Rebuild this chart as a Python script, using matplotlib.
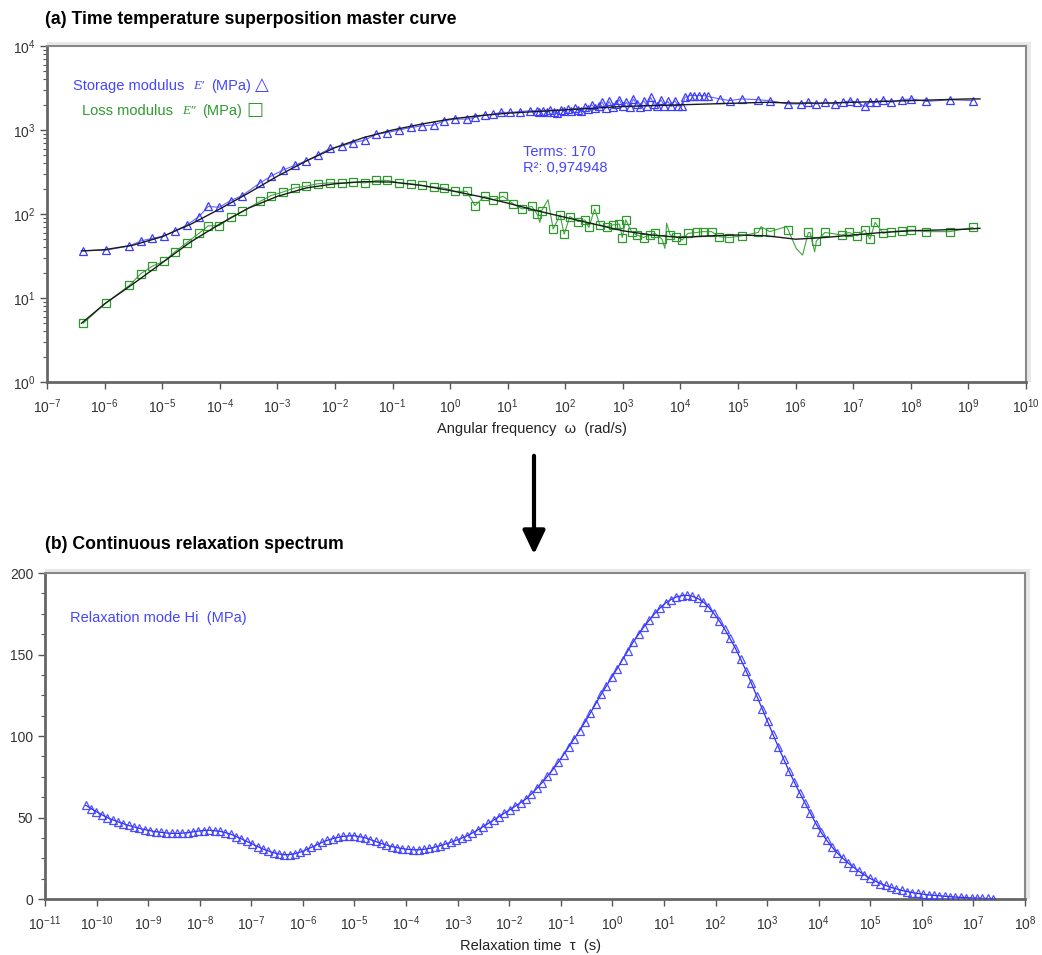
import numpy as np
import matplotlib
matplotlib.use("Agg")
import matplotlib.pyplot as plt
from matplotlib.patches import Rectangle, FancyArrowPatch, ArrowStyle

plt.rcParams["font.family"] = ["Liberation Sans", "DejaVu Sans"]
plt.rcParams["mathtext.fontset"] = "custom"
plt.rcParams["mathtext.rm"] = "Liberation Sans"
plt.rcParams["mathtext.it"] = "Liberation Sans:italic"
plt.rcParams["mathtext.bf"] = "Liberation Sans:bold"

# ---------------- (a) master curve data (log10 values) ----------------
storage_logw = [
    -6.37, -5.98, -5.57, -5.37, -5.17, -4.96, -4.78, -4.57, -4.36, -4.20,
    -4.01, -3.81, -3.61, -3.30, -3.11, -2.91, -2.70, -2.51, -2.30, -2.09,
    -1.88, -1.68, -1.48, -1.28, -1.09, -0.88, -0.68, -0.48, -0.28, -0.10,
    0.08, 0.29, 0.43, 0.60, 0.75, 0.89, 1.04, 1.21, 1.39, 1.50,
    1.55, 1.62, 1.68, 1.74, 1.80, 1.86, 1.92, 1.98, 2.04, 2.10,
    2.16, 2.22, 2.28, 2.34, 2.40, 2.46, 2.52, 2.58, 2.64, 2.70,
    2.76, 2.82, 2.88, 2.94, 3.00, 3.06, 3.12, 3.18, 3.24, 3.30,
    3.36, 3.42, 3.48, 3.54, 3.60, 3.66, 3.72, 3.78, 3.84, 3.90,
    3.96, 4.02, 4.08, 4.16, 4.24, 4.32, 4.40, 4.48,
    4.68, 4.86, 5.06, 5.35, 5.55, 5.87, 6.10, 6.22, 6.36, 6.51,
    6.68, 6.83, 6.94, 7.07, 7.20, 7.29, 7.40, 7.52, 7.66, 7.84,
    8.01, 8.27, 8.68, 9.08,
]
storage_logE = [
    1.563, 1.57, 1.62, 1.68, 1.71, 1.74, 1.80, 1.87, 1.97, 2.09,
    2.08, 2.16, 2.22, 2.37, 2.45, 2.52, 2.58, 2.63, 2.70, 2.78,
    2.81, 2.85, 2.88, 2.95, 2.97, 3.00, 3.03, 3.05, 3.06, 3.11,
    3.13, 3.13, 3.15, 3.18, 3.19, 3.21, 3.21, 3.22, 3.23, 3.23,
    3.22, 3.23, 3.21, 3.24, 3.22, 3.20, 3.24, 3.23, 3.25, 3.23,
    3.26, 3.24, 3.23, 3.27, 3.25, 3.30, 3.26, 3.29, 3.33, 3.26,
    3.34, 3.27, 3.31, 3.36, 3.28, 3.33, 3.27, 3.37, 3.31, 3.27,
    3.35, 3.29, 3.39, 3.31, 3.28, 3.36, 3.29, 3.34, 3.28, 3.35,
    3.29, 3.28, 3.39, 3.41, 3.41, 3.41, 3.41, 3.40,
    3.37, 3.35, 3.37, 3.36, 3.35, 3.31, 3.31, 3.33, 3.31, 3.33,
    3.31, 3.33, 3.35, 3.33, 3.28, 3.33, 3.33, 3.36, 3.33, 3.36,
    3.37, 3.34, 3.36, 3.35,
]

loss_logw = [
    -6.37, -5.98, -5.57, -5.37, -5.17, -4.96, -4.78, -4.57, -4.36, -4.20,
    -4.01, -3.81, -3.61, -3.30, -3.11, -2.91, -2.70, -2.51, -2.30, -2.09,
    -1.88, -1.68, -1.48, -1.28, -1.09, -0.88, -0.68, -0.48, -0.28, -0.10,
    0.08, 0.29, 0.43, 0.60, 0.75, 0.92, 1.10, 1.25, 1.42, 1.51,
    1.59, 1.79, 1.91, 1.98, 2.08, 2.22, 2.34, 2.41, 2.51, 2.60,
    2.72, 2.83, 2.94, 2.99, 3.05, 3.15, 3.24, 3.36, 3.47, 3.56,
    3.68, 3.82, 3.93, 4.03, 4.13, 4.28, 4.39, 4.54, 4.67, 4.85,
    5.06, 5.35, 5.55, 5.87, 6.22, 6.36, 6.51, 6.80, 6.93, 7.07,
    7.20, 7.29, 7.38, 7.52, 7.66, 7.84, 8.01, 8.27, 8.68, 9.08,
]
loss_logE = [
    0.70, 0.94, 1.15, 1.29, 1.38, 1.44, 1.55, 1.66, 1.77, 1.86,
    1.86, 1.96, 2.03, 2.15, 2.22, 2.26, 2.31, 2.33, 2.36, 2.37,
    2.37, 2.38, 2.37, 2.40, 2.40, 2.37, 2.36, 2.34, 2.32, 2.31,
    2.27, 2.27, 2.10, 2.21, 2.17, 2.21, 2.12, 2.06, 2.09, 2.00,
    2.04, 1.82, 1.99, 1.76, 1.97, 1.91, 1.93, 1.84, 2.06, 1.87,
    1.85, 1.87, 1.88, 1.72, 1.93, 1.79, 1.75, 1.72, 1.75, 1.77,
    1.70, 1.75, 1.73, 1.69, 1.77, 1.78, 1.79, 1.79, 1.73, 1.72,
    1.74, 1.78, 1.79, 1.81, 1.78, 1.68, 1.78, 1.75, 1.78, 1.74,
    1.81, 1.70, 1.90, 1.77, 1.79, 1.80, 1.81, 1.79, 1.79, 1.84,
]
# loss readings traced by the line but not marked
loss_extra_logw = [1.56, 1.70, 3.73, 3.76, 5.40, 5.84, 6.01, 6.12, 6.25, 6.33]
loss_extra_logE = [1.90, 2.17, 1.59, 1.89, 1.85, 1.85, 1.59, 1.51, 1.78, 1.55]

# fitted Prony-series curves
fit_logw = [
    -6.4, -6.0, -5.5, -5.0, -4.5, -4.0, -3.5, -3.0, -2.5, -2.0, -1.5,
    -1.0, -0.5, 0.0, 0.5, 1.0, 1.5, 2.0, 2.5, 3.0, 3.5, 4.0, 4.5,
    5.0, 5.5, 6.0, 6.5, 7.0, 7.5, 8.0, 8.5, 9.0, 9.2,
]
fit_storage_logE = [
    1.56, 1.575, 1.63, 1.73, 1.88, 2.06, 2.25, 2.45, 2.63, 2.79, 2.91,
    3.00, 3.07, 3.13, 3.17, 3.20, 3.22, 3.24, 3.26, 3.28, 3.29, 3.30, 3.31,
    3.32, 3.33, 3.32, 3.32, 3.33, 3.34, 3.35, 3.36, 3.37, 3.37,
]
fit_loss_logE = [
    0.70, 0.93, 1.17, 1.42, 1.67, 1.88, 2.07, 2.21, 2.31, 2.36, 2.385,
    2.38, 2.34, 2.28, 2.21, 2.13, 2.04, 1.96, 1.88, 1.80, 1.75, 1.72, 1.74,
    1.75, 1.74, 1.70, 1.72, 1.75, 1.78, 1.80, 1.81, 1.82, 1.83,
]

# ---------------- (b) relaxation spectrum (170 terms) ----------------
tau_log_first, tau_log_last = -10.21, 7.38
spectrum_H = [
    57.5, 55.5, 53.5, 51.7, 49.9, 48.6, 47.3, 46.2, 45.1, 44.2,
    43.3, 42.6, 41.9, 41.3, 40.9, 40.5, 40.3, 40.2, 40.4, 40.7,
    41.2, 41.7, 42.0, 42.2, 41.9, 41.5, 40.7, 39.8, 38.3, 36.9,
    35.3, 33.8, 32.2, 30.7, 29.5, 28.4, 27.6, 27.2, 27.3, 27.8,
    28.8, 30.1, 31.6, 33.2, 34.7, 36.0, 37.1, 37.8, 38.5, 38.7,
    38.8, 38.2, 37.6, 36.4, 35.3, 34.1, 33.1, 32.2, 31.5, 30.9,
    30.5, 30.2, 30.2, 30.5, 31.0, 31.8, 32.7, 33.7, 34.8, 36.0,
    37.3, 38.7, 40.5, 42.3, 44.3, 46.4, 48.5, 50.6, 52.7, 54.8,
    56.9, 59.1, 61.4, 64.4, 67.8, 71.4, 75.3, 79.4, 83.8, 88.5,
    93.5, 98.4, 103.3, 108.6, 114.1, 119.8, 125.5, 130.8, 136.0, 141.4,
    146.9, 152.4, 157.8, 162.5, 167.1, 171.2, 175.2, 178.6, 181.6, 183.7,
    185.3, 186.1, 186.3, 185.7, 184.4, 182.3, 179.1, 175.2, 170.6, 165.7,
    159.9, 153.9, 147.1, 140.0, 132.3, 124.5, 116.7, 108.9, 101.1, 93.3,
    85.8, 78.4, 71.6, 65.0, 58.8, 52.5, 46.3, 40.8, 36.1, 31.9,
    28.2, 25.0, 22.1, 19.5, 17.0, 14.9, 12.8, 11.1, 9.5, 8.3,
    7.1, 6.2, 5.3, 4.6, 3.9, 3.4, 2.9, 2.5, 2.2, 2.0,
    1.7, 1.4, 1.2, 1.0, 0.8, 0.65, 0.53, 0.43, 0.33, 0.2,
]

freq_ticks = list(range(-7, 11))
tau_ticks = list(range(-11, 9))
mod_ticks = list(range(0, 5))
H_ticks = [0, 50, 100, 150, 200]

BLUE = "#3c3cff"
GREEN = "#2e9a2e"
TEXT_BLUE = "#4646ff"
TICK_COLOR = "#333333"

W, H = 1042, 955
fig = plt.figure(figsize=(W / 100, H / 100), dpi=100)


def px_box(x0, y0, x1, y1):
    return [x0 / W, 1 - y1 / H, (x1 - x0) / W, (y1 - y0) / H]


def px_text(x, y, s, **kw):
    kw.setdefault("va", "center")
    kw.setdefault("ha", "left")
    return fig.text(x / W, 1 - y / H, s, **kw)


def frame(ax):
    pos = ax.get_position()
    shadow = Rectangle((pos.x0, pos.y0), pos.width + 5 / W, pos.height + 4 / H,
                       transform=fig.transFigure, facecolor="#e8e8e8",
                       edgecolor="none", zorder=-1)
    fig.patches.append(shadow)
    for side in ("left", "bottom"):
        ax.spines[side].set_color("#666666")
        ax.spines[side].set_linewidth(2.0)
    for side in ("top", "right"):
        ax.spines[side].set_color("#888888")
        ax.spines[side].set_linewidth(1.5)
    ax.tick_params(which="major", direction="out", length=5, width=1.0,
                   color="#555555", labelcolor=TICK_COLOR, labelsize=10)
    ax.tick_params(which="minor", direction="out", length=3, width=0.8,
                   color="#555555")


def pow_labels(exps):
    return [r"$\mathregular{10^{%d}}$" % e for e in exps]


# ---------------- panel (a) ----------------
ax1 = fig.add_axes(px_box(47, 46, 1026, 382))
ax1.set_xscale("log")
ax1.set_yscale("log")
ax1.set_xlim(10.0 ** freq_ticks[0], 10.0 ** freq_ticks[-1])
ax1.set_ylim(10.0 ** mod_ticks[0], 10.0 ** mod_ticks[-1])

w_st = 10.0 ** np.array(storage_logw)
E_st = 10.0 ** np.array(storage_logE)
w_lo = 10.0 ** np.array(loss_logw)
E_lo = 10.0 ** np.array(loss_logE)

all_lw = np.array(loss_logw + loss_extra_logw)
all_lE = np.array(loss_logE + loss_extra_logE)
order = np.argsort(all_lw)

ax1.plot(w_st, E_st, color=BLUE, lw=0.8, alpha=0.8, zorder=2)
ax1.plot(w_st, E_st, ls="none", marker="^", ms=5.5, mfc="none",
         mec=BLUE, mew=0.9, zorder=3)
ax1.plot(10.0 ** all_lw[order], 10.0 ** all_lE[order], color=GREEN, lw=0.8,
         alpha=0.9, zorder=2)
ax1.plot(w_lo, E_lo, ls="none", marker="s", ms=5.5, mfc="none",
         mec=GREEN, mew=0.9, zorder=3)

fw = 10.0 ** np.array(fit_logw)
ax1.plot(fw, 10.0 ** np.array(fit_storage_logE), color="#1a1a1a", lw=1.0, zorder=4)
ax1.plot(fw, 10.0 ** np.array(fit_loss_logE), color="#1a1a1a", lw=1.0, zorder=4)

ax1.set_xticks([10.0 ** e for e in freq_ticks])
ax1.set_xticklabels(pow_labels(freq_ticks))
ax1.xaxis.set_minor_locator(matplotlib.ticker.NullLocator())
ax1.set_yticks([10.0 ** e for e in mod_ticks])
ax1.set_yticklabels(pow_labels(mod_ticks))
ax1.yaxis.set_minor_locator(matplotlib.ticker.LogLocator(base=10, subs=np.arange(2, 10)))
ax1.yaxis.set_minor_formatter(matplotlib.ticker.NullFormatter())
frame(ax1)
ax1.tick_params(axis="x", pad=6)

# legend-style annotations
px_text(73, 86, "Storage modulus", color=TEXT_BLUE, fontsize=10.5)
px_text(193, 86, "E\u2032", color=TEXT_BLUE, fontsize=9.5,
        family=["Liberation Serif", "DejaVu Serif"], style="italic")
px_text(211, 86, "(MPa)", color=TEXT_BLUE, fontsize=10.5)
px_text(255, 85, "\u25B3", color=TEXT_BLUE, fontsize=13, family=["DejaVu Sans"])
px_text(82, 111, "Loss modulus", color=GREEN, fontsize=10.5)
px_text(182, 111, "E\u2033", color=GREEN, fontsize=9.5,
        family=["Liberation Serif", "DejaVu Serif"], style="italic")
px_text(202, 111, "(MPa)", color=GREEN, fontsize=10.5)
px_text(246, 110, "\u25A1", color=GREEN, fontsize=13, family=["DejaVu Sans"])
px_text(523, 152, "Terms: 170", color=TEXT_BLUE, fontsize=10.5)
px_text(523, 168, "R\u00b2: 0,974948", color=TEXT_BLUE, fontsize=10.5)

px_text(45, 20, "(a) Time temperature superposition master curve",
        fontsize=12.7, fontweight="bold")
px_text(532, 429, "Angular frequency  \u03c9  (rad/s)",
        fontsize=10.5, color="#222222", ha="center")

# ---------------- arrow ----------------
arrow = FancyArrowPatch((534 / W, 1 - 453 / H), (534 / W, 1 - 557 / H),
                        transform=fig.transFigure,
                        arrowstyle=ArrowStyle("-|>", head_length=0.8, head_width=0.38),
                        mutation_scale=18, lw=3, color="black")
fig.patches.append(arrow)

# ---------------- panel (b) ----------------
ax2 = fig.add_axes(px_box(45, 573, 1025, 899))
ax2.set_xscale("log")
ax2.set_xlim(10.0 ** tau_ticks[0], 10.0 ** tau_ticks[-1])
ax2.set_ylim(H_ticks[0], H_ticks[-1])

tau = 10.0 ** np.linspace(tau_log_first, tau_log_last, len(spectrum_H))
ax2.plot(tau, spectrum_H, color="#2a2aff", lw=0.9, zorder=2)
ax2.plot(tau, spectrum_H, ls="none", marker="^", ms=5.3, mfc="none",
         mec=BLUE, mew=0.9, alpha=0.9, zorder=3)

ax2.set_xticks([10.0 ** e for e in tau_ticks])
ax2.set_xticklabels(pow_labels(tau_ticks))
ax2.xaxis.set_minor_locator(matplotlib.ticker.NullLocator())
ax2.set_yticks(H_ticks)
ax2.yaxis.set_minor_locator(matplotlib.ticker.MultipleLocator(12.5))
frame(ax2)
ax2.tick_params(axis="x", pad=6)

px_text(70, 618, "Relaxation mode Hi  (MPa)", color=TEXT_BLUE, fontsize=10.5)

px_text(45, 544, "(b) Continuous relaxation spectrum",
        fontsize=12.7, fontweight="bold")
px_text(531, 946, "Relaxation time  \u03c4  (s)",
        fontsize=10.5, color="#222222", ha="center")

fig.savefig("out.png", dpi=100)
